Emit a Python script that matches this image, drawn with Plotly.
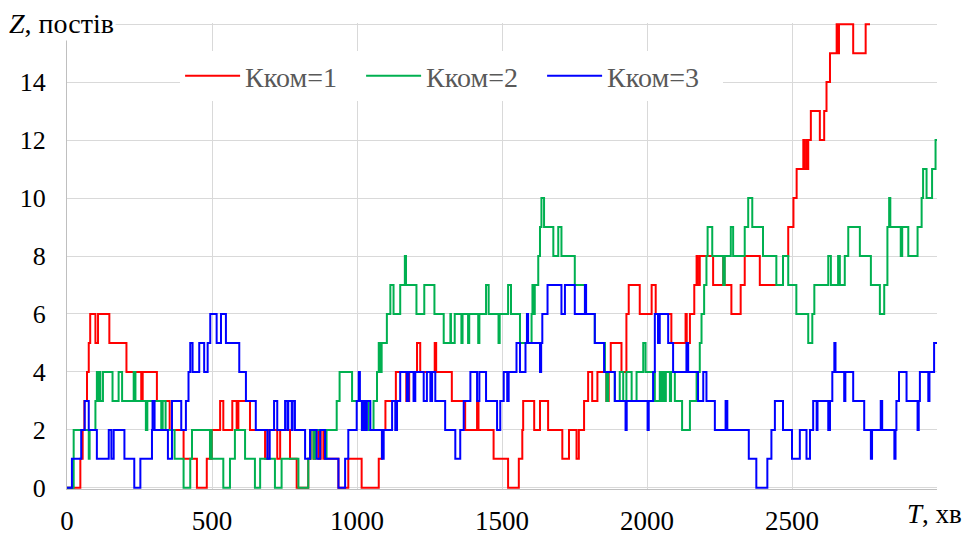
import plotly.graph_objects as go

# ---- data: (time T, value Z) change points of step series ----
red_steps = [(0,0),(46,1),(54,2),(60,3),(69,4),(75,5),(80,6),(98,5),(107,6),(146,5),(205,4),(256,3),(261,4),(310,3),(354,2),(402,1),(448,0),(482,1),(499,2),(528,3),(539,2),(570,3),(585,2),(591,3),(631,2),(683,1),(692,2),(725,1),(735,2),(769,1),(792,0),(832,1),(840,2),(850,1),(855,2),(867,1),(875,2),(884,1),(936,0),(970,1),(1016,0),(1075,1),(1086,2),(1098,3),(1134,4),(1170,3),(1180,4),(1207,5),(1218,4),(1268,5),(1273,4),(1327,3),(1373,2),(1414,3),(1419,2),(1471,1),(1521,0),(1558,1),(1570,2),(1573,3),(1611,2),(1631,3),(1659,2),(1708,1),(1731,2),(1757,1),(1765,2),(1783,3),(1797,4),(1811,3),(1829,4),(1860,3),(1868,4),(1875,5),(1912,4),(1929,6),(1937,7),(1975,6),(2016,7),(2030,6),(2084,5),(2133,6),(2137,5),(2148,6),(2163,7),(2171,8),(2175,7),(2182,8),(2228,7),(2263,8),(2267,7),(2291,6),(2323,7),(2337,8),(2389,7),(2469,8),(2487,9),(2505,10),(2516,11),(2539,12),(2543,11),(2550,12),(2553,11),(2556,12),(2565,13),(2596,12),(2611,13),(2619,14),(2631,15),(2654,16),(2658,15),(2662,16),(2711,15),(2754,16),(2769,16)]

green_steps = [(0,0),(23,2),(75,1),(78,2),(98,3),(103,4),(107,3),(112,4),(115,3),(124,4),(157,3),(178,4),(190,3),(230,4),(236,3),(272,2),(277,3),(325,2),(330,3),(340,2),(371,1),(402,0),(425,1),(431,2),(493,1),(496,2),(499,1),(539,0),(562,1),(579,2),(614,1),(648,0),(666,1),(717,0),(740,1),(798,0),(832,1),(840,2),(850,1),(855,2),(890,1),(895,2),(930,3),(940,4),(983,3),(1017,2),(1029,3),(1040,2),(1057,3),(1069,4),(1075,5),(1079,4),(1085,5),(1103,6),(1115,7),(1126,6),(1149,7),(1165,8),(1169,7),(1205,6),(1232,7),(1267,6),(1299,5),(1322,6),(1324,5),(1337,6),(1360,5),(1364,6),(1383,5),(1387,6),(1418,5),(1422,6),(1445,7),(1454,6),(1488,5),(1492,6),(1521,7),(1531,6),(1562,5),(1602,6),(1605,7),(1610,6),(1613,7),(1625,8),(1631,9),(1636,10),(1645,9),(1677,8),(1694,9),(1705,8),(1751,7),(1786,6),(1820,5),(1855,4),(1860,3),(1866,4),(1889,3),(1906,4),(1918,3),(1929,4),(1947,3),(1964,4),(1987,5),(1995,4),(2027,3),(2044,4),(2050,3),(2056,4),(2061,3),(2065,4),(2079,3),(2083,4),(2096,3),(2121,2),(2148,3),(2171,4),(2182,5),(2188,6),(2197,7),(2205,8),(2209,9),(2225,8),(2263,7),(2268,8),(2289,9),(2297,8),(2337,9),(2349,10),(2363,9),(2400,8),(2446,7),(2469,8),(2487,7),(2515,6),(2556,5),(2570,6),(2577,7),(2625,8),(2634,7),(2659,8),(2665,7),(2682,8),(2694,9),(2734,8),(2772,7),(2803,6),(2818,7),(2829,9),(2835,10),(2839,9),(2875,8),(2880,9),(2901,8),(2933,9),(2947,10),(2952,11),(2964,10),(2983,11),(2995,12),(3000,12)]

blue_steps = [(0,0),(17,1),(49,2),(61,3),(75,2),(103,1),(144,2),(153,1),(161,2),(198,1),(232,0),(253,1),(293,2),(295,3),(302,2),(348,1),(362,3),(394,2),(410,3),(419,4),(425,5),(433,4),(456,5),(473,4),(485,5),(494,6),(516,5),(531,6),(548,5),(594,4),(617,3),(651,2),(691,1),(699,2),(714,3),(725,2),(752,3),(760,2),(763,3),(775,2),(778,3),(786,2),(821,1),(838,2),(861,1),(873,2),(890,1),(936,0),(959,1),(970,2),(999,3),(1006,4),(1010,3),(1017,2),(1023,3),(1029,2),(1034,3),(1046,2),(1086,1),(1092,2),(1121,3),(1132,2),(1138,3),(1149,4),(1172,3),(1178,4),(1195,3),(1201,4),(1230,3),(1241,4),(1253,3),(1259,4),(1270,3),(1304,2),(1339,1),(1356,2),(1368,3),(1391,4),(1414,3),(1422,4),(1445,3),(1483,2),(1494,3),(1506,4),(1518,3),(1523,4),(1550,5),(1562,4),(1581,5),(1586,6),(1590,5),(1631,4),(1635,5),(1639,6),(1657,7),(1705,6),(1717,7),(1751,6),(1786,7),(1790,6),(1820,5),(1852,4),(1889,3),(1926,2),(1930,3),(2002,2),(2006,3),(2021,4),(2027,6),(2038,5),(2044,6),(2073,5),(2090,4),(2136,5),(2142,4),(2176,3),(2194,4),(2205,3),(2234,2),(2271,3),(2277,2),(2351,1),(2377,0),(2415,1),(2429,2),(2441,3),(2469,2),(2500,1),(2527,2),(2550,1),(2562,2),(2573,3),(2585,2),(2588,3),(2625,2),(2631,3),(2639,4),(2646,5),(2650,4),(2680,3),(2684,4),(2711,3),(2749,2),(2772,1),(2776,2),(2806,3),(2811,2),(2853,1),(2857,2),(2860,3),(2869,4),(2895,3),(2933,2),(2937,3),(2941,4),(2970,3),(2974,4),(2990,5),(3000,5)]

series_names = ["Кком=1", "Кком=2", "Кком=3"]
series_colors = ["#FF0000", "#00B050", "#0000FF"]

x_tick_vals = [0, 500, 1000, 1500, 2000, 2500, 3000]
x_tick_text = ["0", "500", "1000", "1500", "2000", "2500", ""]
y_tick_vals = [0, 2, 4, 6, 8, 10, 12, 14, 16]
y_tick_text = ["0", "2", "4", "6", "8", "10", "12", "14", ""]

FONT = "Liberation Serif"

fig = go.Figure()
for steps, name, color in zip([red_steps, green_steps, blue_steps], series_names, series_colors):
    fig.add_trace(go.Scatter(
        x=[p[0] for p in steps], y=[p[1] for p in steps],
        mode="lines", name=name, line=dict(color=color, width=2, shape="hv"),
    ))

fig.update_layout(
    width=964, height=537,
    margin=dict(l=67, r=27, t=23, b=48),
    paper_bgcolor="white", plot_bgcolor="white",
    font=dict(family=FONT, size=26, color="#000000"),
    showlegend=True,
    legend=dict(
        orientation="h", x=0.13, xanchor="left", y=0.886, yanchor="middle",
        bgcolor="white", font=dict(family=FONT, size=28, color="#595959"),
        entrywidth=111, entrywidthmode="pixels", traceorder="normal",
        itemwidth=55,
    ),
    xaxis=dict(
        range=[0, 3000], tickvals=x_tick_vals, ticktext=x_tick_text,
        showgrid=True, gridcolor="#D9D9D9", gridwidth=1.3,
        showline=True, linecolor="#BFBFBF", linewidth=1.3,
        zeroline=False, ticks="", ticklabelstandoff=7, automargin=False,
        tickfont=dict(family=FONT, size=27, color="#000000"),
    ),
    yaxis=dict(
        range=[-0.04, 16.04], tickvals=y_tick_vals, ticktext=y_tick_text,
        showgrid=True, gridcolor="#D9D9D9", gridwidth=1.3,
        showline=True, linecolor="#BFBFBF", linewidth=1.3,
        zeroline=False, ticks="", ticklabelstandoff=15, automargin=False,
        tickfont=dict(family=FONT, size=26, color="#000000"),
    ),
    annotations=[
        dict(text="<i>Z</i>, постів", xref="paper", yref="paper", x=-0.069, y=1.0,
             xanchor="left", yanchor="middle", showarrow=False, bgcolor="white",
             font=dict(family=FONT, size=28, color="#000000")),
        dict(text="<i>T</i>, хв", xref="paper", yref="paper", x=1.0305, y=0,
             xanchor="right", yanchor="top", yshift=-8, showarrow=False,
             font=dict(family=FONT, size=27, color="#000000")),
    ],
)

fig.write_html("out.html")
